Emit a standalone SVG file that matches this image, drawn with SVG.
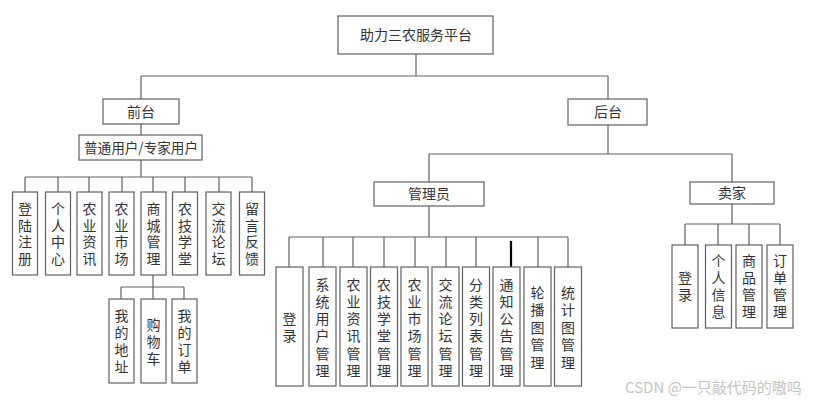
<svg xmlns="http://www.w3.org/2000/svg" width="816" height="403" viewBox="0 0 816 403">
<style>
.box{fill:#fff;stroke:#606060;stroke-width:1.2}
.ln{fill:none;stroke:#606060;stroke-width:1.2}
.t{font-family:"Noto Sans CJK SC","Noto Sans",sans-serif;font-size:14px;fill:#333;text-anchor:middle}
.v{font-family:"Noto Sans CJK SC","Noto Sans",sans-serif;font-size:14px;fill:#333;text-anchor:middle;writing-mode:vertical-rl;letter-spacing:3px}
.v1{letter-spacing:2.7px}
.v6{letter-spacing:3.2px}
.v5{letter-spacing:3.5px}
.wm{font-family:"Noto Sans CJK SC","Noto Sans",sans-serif;font-size:15px;fill:#c4c4c4}
</style>
<rect width="816" height="403" fill="#fff"/>
<g id="connectors">
<path class="ln" d="M416 54V76M141 76H608M141 76V99M608 76V99"/>
<path class="ln" d="M141 124V135M141 160V177M25 177H252M25 177V192M58 177V192M89 177V192M122 177V192M153 177V192M185 177V192M219 177V192M252 177V192"/>
<path class="ln" d="M153 275V287M121 287H184M121 287V299M153 287V299M184 287V299"/>
<path class="ln" d="M608 125V154M429 154H732M429 154V182M732 154V182"/>
<path class="ln" d="M429 206V237M289 237H568M289 237V267M323 237V267M353 237V267M384 237V267M415 237V267M446 237V267M476 237V267M538 237V267M568 237V267"/>
<path d="M511 241V268" stroke="#000" stroke-width="2.2" fill="none"/>
<path class="ln" d="M732 204V224M685 224H780M685 224V245M718 224V245M749 224V245M780 224V245"/>
</g>
<g id="root"><rect class="box" x="338" y="16" width="155" height="38"/><text class="t" x="416" y="40">助力三农服务平台</text></g>
<g id="qiantai"><rect class="box" x="103" y="99" width="76" height="25"/><text class="t" x="141" y="117">前台</text></g>
<g id="houtai"><rect class="box" x="568" y="99" width="79" height="26"/><text class="t" x="608" y="117">后台</text></g>
<g id="user"><rect class="box" x="79" y="135" width="123" height="25"/><text class="t" x="141" y="152.5" style="font-size:13.6px">普通用户/专家用户</text></g>
<g id="admin"><rect class="box" x="374" y="182" width="110" height="24"/><text class="t" x="429" y="199">管理员</text></g>
<g id="seller"><rect class="box" x="690" y="182" width="84" height="22"/><text class="t" x="732" y="198">卖家</text></g>

<g id="u1"><rect class="box" x="12.5" y="192" width="25" height="83"/><text class="v v1" x="25" y="235">登陆注册</text></g>
<g id="u2"><rect class="box" x="45.5" y="192" width="25" height="83"/><text class="v v1" x="58" y="235">个人中心</text></g>
<g id="u3"><rect class="box" x="77" y="192" width="25" height="83"/><text class="v v1" x="89.5" y="235">农业资讯</text></g>
<g id="u4"><rect class="box" x="109" y="192" width="25" height="83"/><text class="v v1" x="121.5" y="235">农业市场</text></g>
<g id="u5"><rect class="box" x="141" y="192" width="25" height="83"/><text class="v v1" x="153.5" y="235">商城管理</text></g>
<g id="u6"><rect class="box" x="172.5" y="192" width="25" height="83"/><text class="v v1" x="185" y="235">农技学堂</text></g>
<g id="u7"><rect class="box" x="206" y="192" width="25" height="83"/><text class="v v1" x="218.5" y="235">交流论坛</text></g>
<g id="u8"><rect class="box" x="239.5" y="192" width="25" height="83"/><text class="v v1" x="252" y="235">留言反馈</text></g>

<g id="s1"><rect class="box" x="109" y="299" width="25" height="84"/><text class="v" x="121.5" y="343">我的地址</text></g>
<g id="s2"><rect class="box" x="141" y="299" width="25" height="84"/><text class="v" x="153.5" y="343">购物车</text></g>
<g id="s3"><rect class="box" x="172" y="299" width="25" height="84"/><text class="v" x="184.5" y="343">我的订单</text></g>

<g id="a1"><rect class="box" x="276" y="267" width="27" height="119"/><text class="v" x="289.5" y="329">登录</text></g>
<g id="a2"><rect class="box" x="309" y="267" width="27" height="119"/><text class="v v6" x="322.5" y="329">系统用户管理</text></g>
<g id="a3"><rect class="box" x="340" y="267" width="27" height="119"/><text class="v v6" x="353.5" y="329">农业资讯管理</text></g>
<g id="a4"><rect class="box" x="370.5" y="267" width="27" height="119"/><text class="v v6" x="384" y="329">农技学堂管理</text></g>
<g id="a5"><rect class="box" x="401" y="267" width="27" height="119"/><text class="v v6" x="414.5" y="329">农业市场管理</text></g>
<g id="a6"><rect class="box" x="432" y="267" width="27" height="119"/><text class="v v6" x="445.5" y="329">交流论坛管理</text></g>
<g id="a7"><rect class="box" x="462.5" y="267" width="27" height="119"/><text class="v v6" x="476" y="329">分类列表管理</text></g>
<g id="a8"><rect class="box" x="493" y="267" width="27" height="119"/><text class="v v6" x="506.5" y="329">通知公告管理</text></g>
<g id="a9"><rect class="box" x="524" y="267" width="27" height="119"/><text class="v v5" x="537.5" y="329">轮播图管理</text></g>
<g id="a10"><rect class="box" x="554.5" y="267" width="27" height="119"/><text class="v v5" x="568" y="329">统计图管理</text></g>

<g id="m1"><rect class="box" x="672" y="245" width="26" height="83"/><text class="v" x="685" y="288">登录</text></g>
<g id="m2"><rect class="box" x="705.5" y="245" width="26" height="83"/><text class="v" x="718.5" y="288">个人信息</text></g>
<g id="m3"><rect class="box" x="736" y="245" width="26" height="83"/><text class="v" x="749" y="288">商品管理</text></g>
<g id="m4"><rect class="box" x="767" y="245" width="26" height="83"/><text class="v" x="780" y="288">订单管理</text></g>

<text class="wm" x="625" y="393">CSDN @一只敲代码的嗷呜</text>
</svg>
